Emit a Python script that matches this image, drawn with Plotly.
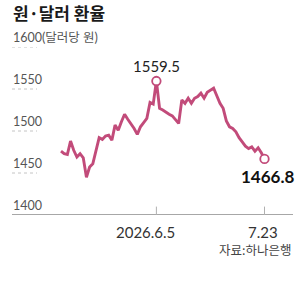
import pandas as pd
import plotly.graph_objects as go

# ---- data ----
dates = pd.bdate_range("2026-04-24", "2026-07-23")
rates = [1476, 1473, 1472, 1488, 1477, 1469, 1473, 1468, 1445, 1457,
         1461, 1476, 1492, 1490, 1494, 1495, 1489, 1507, 1501, 1511,
         1520, 1514, 1509, 1503, 1496, 1505, 1510, 1515, 1534, 1532,
         1559.5, 1527, 1525, 1522, 1520, 1518, 1514, 1509, 1537, 1533,
         1539, 1533, 1539, 1541, 1545, 1539, 1546, 1549, 1551, 1542,
         1533, 1527, 1512, 1505, 1503, 1499, 1492, 1487, 1482, 1479,
         1481, 1476, 1480, 1474, 1466.8]
y_ticks = [1400, 1450, 1500, 1550, 1600]
y_tick_text = ["1400", "1450", "1500", "1550", "1600(달러당 원)"]
x_tick_dates = ["2026-06-05", "2026-07-23"]
x_tick_text = ["2026.6.5", "7.23"]
title = "원·달러 환율"
source = "자료:하나은행"

# ---- styling ----
W, H = 300, 296
LINE = "#c24b7a"
NUM_FONT = "Lato, Noto Sans CJK KR, sans-serif"
KR_FONT = "Noto Sans CJK KR, sans-serif"

idx = list(range(len(rates)))
date_str = [d.strftime("%Y-%m-%d") for d in dates]
peak_i = max(idx, key=lambda i: rates[i])
last_i = idx[-1]

left_px, right_px = 12, 293
top_px, bot_px = 47, 215
x0_px, x1_px = 61, 264.5
ppu = (x1_px - x0_px) / last_i
xr = [0 - (x0_px - left_px) / ppu, last_i + (right_px - x1_px) / ppu]


def px_x(px):
    return px / W


def px_y(px):
    return (H - px) / H


fig = go.Figure()
fig.add_trace(go.Scatter(x=idx, y=rates, mode="lines",
                         line=dict(color=LINE, width=2.9), hoverinfo="skip"))
fig.add_trace(go.Scatter(x=[peak_i, last_i], y=[rates[peak_i], rates[last_i]],
                         mode="markers",
                         marker=dict(size=8.5, color="white",
                                     line=dict(color=LINE, width=1.8)),
                         hoverinfo="skip"))

shapes = []
# bottom axis line
shapes.append(dict(type="line", xref="paper", yref="y",
                   x0=px_x(left_px), x1=px_x(right_px),
                   y0=y_ticks[0], y1=y_ticks[0],
                   line=dict(color="#8a8a8a", width=1.3)))
# short underlines under y labels
for v in y_ticks[1:]:
    shapes.append(dict(type="line", xref="paper", yref="y",
                       x0=px_x(left_px), x1=px_x(37),
                       y0=v, y1=v, line=dict(color="#c4c4c4", width=1, dash="dot")))
# x ticks
for d in x_tick_dates:
    xi = date_str.index(d)
    shapes.append(dict(type="line", xref="x", yref="y", x0=xi, x1=xi,
                       y0=y_ticks[0], y1=y_ticks[0] + 10,
                       line=dict(color="#b0b0b0", width=1)))

fig.update_layout(
    width=W, height=H,
    margin=dict(l=0, r=0, t=0, b=0),
    paper_bgcolor="white", plot_bgcolor="white",
    showlegend=False,
    xaxis=dict(domain=[left_px / W, right_px / W], range=xr, visible=False,
               fixedrange=True),
    yaxis=dict(domain=[(H - bot_px) / H, (H - top_px) / H],
               range=[y_ticks[0], y_ticks[-1]],
               visible=False, fixedrange=True),
    shapes=shapes,
)

ann = []
# title
ann.append(dict(text="<b>%s</b>" % title, xref="paper", yref="paper",
                x=px_x(left_px - 1), xanchor="left", y=px_y(12), yanchor="middle",
                showarrow=False, font=dict(family=KR_FONT, size=17, color="#1a1a1a")))
# y labels
for v, t in zip(y_ticks, y_tick_text):
    ann.append(dict(text=t, xref="paper", yref="y", x=px_x(left_px - 1), xanchor="left",
                    y=v, yanchor="bottom", yshift=0, showarrow=False,
                    font=dict(family=NUM_FONT, size=12.5, color="#555555")))
# peak label
ann.append(dict(text="%.1f" % rates[peak_i], x=peak_i, y=rates[peak_i],
                xref="x", yref="y", yanchor="bottom", yshift=4, showarrow=False,
                font=dict(family=NUM_FONT, size=15, color="#222222")))
# last label
ann.append(dict(text="<b>%.1f</b>" % rates[last_i], x=last_i, y=rates[last_i],
                xref="x", yref="y", yanchor="top", yshift=-5, xshift=3,
                showarrow=False,
                font=dict(family=NUM_FONT, size=17, color="#111111")))
# x labels
shifts = [-11, -2]
for d, t, s in zip(x_tick_dates, x_tick_text, shifts):
    xi = date_str.index(d)
    ann.append(dict(text=t, x=xi, y=y_ticks[0], xref="x", yref="y",
                    yanchor="top", yshift=-6, xshift=s, showarrow=False,
                    font=dict(family=NUM_FONT, size=15, color="#333333")))
# source
ann.append(dict(text=source, xref="paper", yref="paper", x=px_x(right_px), xanchor="right",
                y=px_y(249), yanchor="middle",
                showarrow=False, font=dict(family=KR_FONT, size=12.5, color="#444444")))
fig.update_layout(annotations=ann)

fig.write_html("out.html")
